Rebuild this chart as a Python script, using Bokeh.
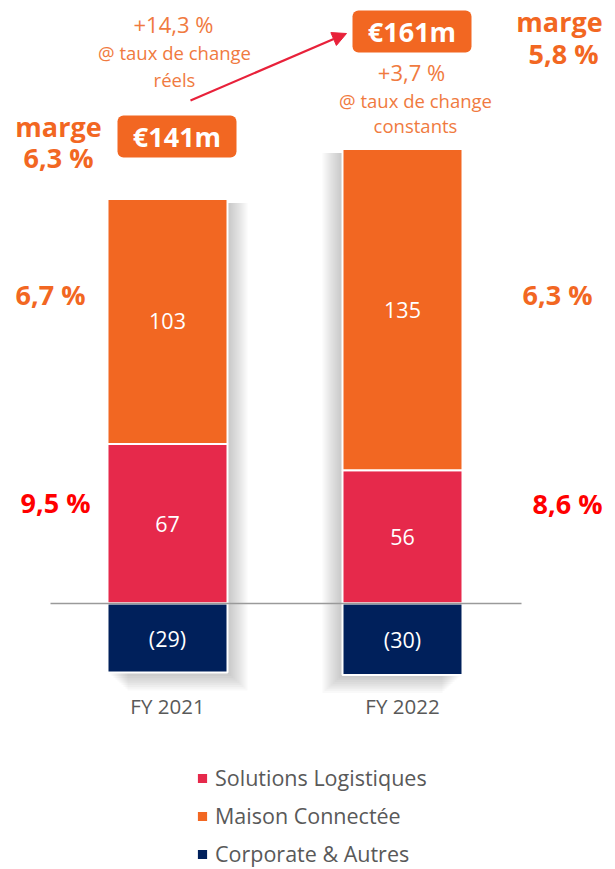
from bokeh.plotting import figure
from bokeh.models import Range1d, Legend, LegendItem, Arrow, NormalHead
from bokeh.core.properties import value
from bokeh.embed import file_html
from bokeh.resources import INLINE

# ---------------- data ----------------
years = ["FY 2021", "FY 2022"]
logistique = [67, 56]
maison = [103, 135]
corporate = [-29, -30]
marge_totale = ["6,3 %", "5,8 %"]
marge_maison = ["6,7 %", "6,3 %"]
marge_logistique = ["9,5 %", "8,6 %"]
croissance = ["+14,3 %", "+3,7 %"]
croissance_note1 = ["@ taux de change", "@ taux de change"]
croissance_note2 = ["réels", "constants"]
series = ["Solutions Logistiques", "Maison Connectée", "Corporate & Autres"]

# ---------------- style ----------------
ORANGE = "#F26722"
CRIMSON = "#E6294B"
NAVY = "#00205B"
RED = "#FF0000"
ARROW_RED = "#E8213A"
LIGHT_ORANGE = "#F07A40"
GREY = "#595959"
FONT_NAME = "Open Sans"
FONT = value(FONT_NAME)

W, H = 615, 869
PX_X, PX_Y = 235.0, 2.38      # pixels per data unit
X0_PX, Y0_PX = 167.0, 603.0   # canvas position of x=0 / y=0


def X(cx):
    return (cx - X0_PX) / PX_X


def Y(cy):
    return (Y0_PX - cy) / PX_Y


def dx(px):
    return px / PX_X


def dy(px):
    return px / PX_Y


p = figure(width=W, height=H, output_backend="svg", toolbar_location=None,
           x_range=Range1d(X(0), X(W)), y_range=Range1d(Y(H), Y(0)),
           x_axis_location=None, y_axis_location=None, min_border=0,
           outline_line_color=None, background_fill_color="white")
p.grid.visible = False

xs = [0, 1]
bw = dx(120)
tops = [l + m for l, m in zip(logistique, maison)]
totals = [l + m + c for l, m, c in zip(logistique, maison, corporate)]

# ---------------- shadows ----------------
for i, x in enumerate(xs):
    side = 1 if i == 0 else -1
    for k in range(1, 11):
        off = k * 2.0
        p.quad(left=[x - bw / 2 + side * dx(off)], right=[x + bw / 2 + side * dx(off)],
               top=[tops[i] - dy(4)], bottom=[corporate[i] - dy(off * 0.9)],
               fill_color="#707070", fill_alpha=0.04, line_color=None)

# ---------------- bars ----------------
r_log = p.vbar(x=xs, width=bw, bottom=0, top=logistique, fill_color=CRIMSON,
               line_color="white", line_width=2)
r_mai = p.vbar(x=xs, width=bw, bottom=logistique, top=tops, fill_color=ORANGE,
               line_color="white", line_width=2)
r_cor = p.vbar(x=xs, width=bw, bottom=corporate, top=0, fill_color=NAVY,
               line_color="white", line_width=2)

# zero line
p.segment(x0=[X(50)], y0=[0], x1=[X(521)], y1=[0], line_color="#9a9a9a", line_width=1.3)

# values inside bars
p.text(x=xs + xs + xs,
       y=[l / 2 for l in logistique] + [l + m / 2 for l, m in zip(logistique, maison)]
         + [c / 2 for c in corporate],
       text=[str(v) for v in logistique] + [str(v) for v in maison]
            + [f"({-c})" for c in corporate],
       text_font=FONT, text_font_size="21.5px", text_color="white",
       text_align="center", text_baseline="middle")

# category labels
p.text(x=xs, y=[Y(705)] * 2, text=years, text_font=FONT, text_font_size="20.5px",
       text_color=GREY, text_align="center", text_baseline="middle")

# margins on the sides
p.text(x=[X(50), X(557)], y=[Y(294)] * 2, text=marge_maison, text_font=FONT,
       text_font_size="27px", text_font_style="bold", text_color=ORANGE,
       text_align="center", text_baseline="middle")
p.text(x=[X(55), X(567)], y=[Y(502), Y(503)], text=marge_logistique, text_font=FONT,
       text_font_size="27px", text_font_style="bold", text_color=RED,
       text_align="center", text_baseline="middle")

# total margin labels
p.text(x=[X(58), X(559)], y=[Y(126), Y(21)], text=["marge", "marge"], text_font=FONT,
       text_font_size="27px", text_font_style="bold", text_color=ORANGE,
       text_align="center", text_baseline="middle")
p.text(x=[X(58), X(563)], y=[Y(157), Y(53)], text=marge_totale, text_font=FONT,
       text_font_size="27px", text_font_style="bold", text_color=ORANGE,
       text_align="center", text_baseline="middle")

# total boxes
box_cx = [X(176.5), X(411.5)]
box_cy = [Y(136), Y(31)]
p.quad(left=[c - dx(59.5) for c in box_cx], right=[c + dx(59.5) for c in box_cx],
       top=[c + dy(21) for c in box_cy], bottom=[c - dy(21) for c in box_cy],
       fill_color=ORANGE, line_color=None, border_radius=6)
p.text(x=box_cx, y=box_cy, text=[f"€{t}m" for t in totals], text_font=FONT,
       text_font_size="27px", text_font_style="bold", text_color="white",
       text_align="center", text_baseline="middle")

# growth notes
p.text(x=[X(173), X(411)], y=[Y(23), Y(71)], text=croissance, text_font=FONT,
       text_font_size="22px", text_color=LIGHT_ORANGE,
       text_align="center", text_baseline="middle")
p.text(x=[X(174), X(415)], y=[Y(52), Y(100)], text=croissance_note1, text_font=FONT,
       text_font_size="18.5px", text_color=LIGHT_ORANGE,
       text_align="center", text_baseline="middle")
p.text(x=[X(174), X(415)], y=[Y(79), Y(125)], text=croissance_note2, text_font=FONT,
       text_font_size="18.5px", text_color=LIGHT_ORANGE,
       text_align="center", text_baseline="middle")

# arrow
p.add_layout(Arrow(end=NormalHead(size=14, fill_color=ARROW_RED, line_color=ARROW_RED),
                   x_start=X(190), y_start=Y(100), x_end=X(346), y_end=Y(33),
                   line_color=ARROW_RED, line_width=2.2))

# legend
legend = Legend(items=[LegendItem(label=series[0], renderers=[r_log]),
                       LegendItem(label=series[1], renderers=[r_mai]),
                       LegendItem(label=series[2], renderers=[r_cor])],
                location=(195, 1), orientation="vertical",
                label_text_font=FONT_NAME, label_text_font_size="21.5px",
                label_text_color=GREY, glyph_width=14, glyph_height=14,
                label_height=22, spacing=9, padding=0, margin=0,
                label_standoff=6, border_line_color=None,
                background_fill_alpha=0)
p.add_layout(legend)

open("out.html", "w").write(file_html(p, INLINE))
